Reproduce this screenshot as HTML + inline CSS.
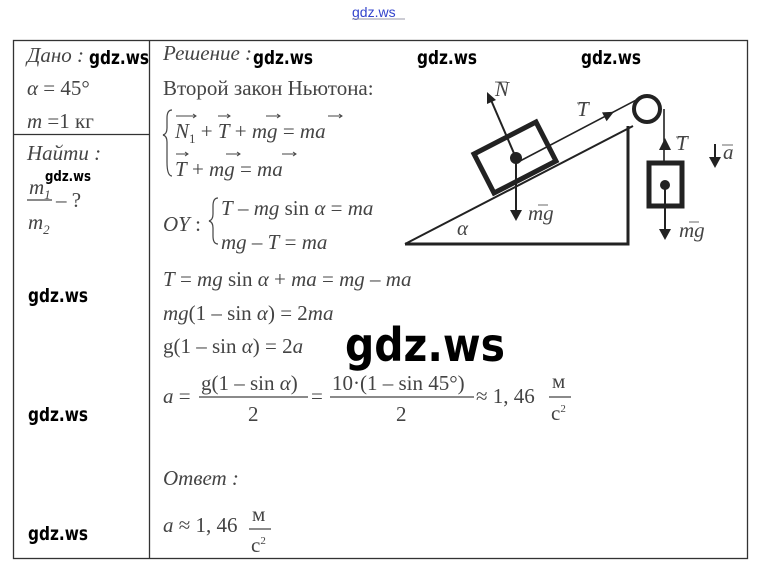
<!DOCTYPE html>
<html><head><meta charset="utf-8"><style>
html,body{margin:0;padding:0;background:#fff;width:758px;height:570px;overflow:hidden}
svg{display:block}
.m{font-family:"Liberation Serif",serif;font-size:21px;fill:#444}
.i{font-style:italic}
.w{font-family:"DejaVu Sans","Liberation Sans",sans-serif;font-weight:bold;fill:#000}
</style></head><body>
<svg width="758" height="570" viewBox="0 0 758 570" xmlns="http://www.w3.org/2000/svg">
<text x="352" y="17" font-family="Liberation Sans,sans-serif" font-size="14" fill="#3344cc">gdz.ws</text>
<line x1="352" y1="19" x2="405" y2="19" stroke="#99a" stroke-width="1"/>
<!-- table -->
<rect x="13.5" y="40.5" width="734" height="518" fill="none" stroke="#333" stroke-width="1.3"/>
<line x1="149.5" y1="40" x2="149.5" y2="559" stroke="#333" stroke-width="1.3"/>
<line x1="13" y1="134.5" x2="149" y2="134.5" stroke="#333" stroke-width="1.3"/>
<!-- left column -->
<text class="m i" x="27" y="62">Дано :</text>
<text class="m" x="27" y="95"><tspan class="i">α</tspan> = 45°</text>
<text class="m" x="27" y="128"><tspan class="i">m</tspan> =1 кг</text>
<text class="m i" x="27" y="160">Найти :</text>
<text class="m i" x="29" y="194">m<tspan font-size="13" dy="5">1</tspan></text>
<line x1="27" y1="200" x2="52" y2="200" stroke="#444" stroke-width="1.3"/>
<text class="m" x="56" y="207">– ?</text>
<text class="m i" x="28" y="229">m<tspan font-size="13" dy="5">2</tspan></text>
<!-- right column -->
<text class="m i" x="163" y="60">Решение :</text>
<text class="m" x="163" y="95">Второй закон Ньютона:</text>
<text class="m i" x="175" y="138">N<tspan font-size="13" dy="5" font-style="normal">1</tspan><tspan dy="-5" font-style="normal"> + </tspan>T<tspan font-style="normal"> + </tspan>mg<tspan font-style="normal"> = </tspan>ma</text>
<text class="m i" x="175" y="176">T<tspan font-style="normal"> + </tspan>mg<tspan font-style="normal"> = </tspan>ma</text>
<path d="M172 110 q-5 0 -5 8 v10 q0 6 -4 7 q4 1 4 7 v20 q0 14 5 14" fill="none" stroke="#444" stroke-width="1.2"/>
<g stroke="#444" stroke-width="1" fill="none">
<path d="M176 116h20m-3 -2l3 2-3 2M218 116h12m-3-2l3 2-3 2M266 116h14m-3-2l3 2-3 2M328 116h14m-3-2l3 2-3 2"/>
<path d="M176 154h12m-3-2l3 2-3 2M226 154h14m-3-2l3 2-3 2M282 154h14m-3-2l3 2-3 2"/>
</g>
<text class="m i" x="163" y="231">OY<tspan font-style="normal"> :</tspan></text>
<path d="M218 198 q-5 0 -5 8 v8 q0 6 -4 7 q4 1 4 7 v8 q0 8 5 8" fill="none" stroke="#444" stroke-width="1.2"/>
<text class="m i" x="221" y="215">T<tspan font-style="normal"> – </tspan>mg<tspan font-style="normal"> sin </tspan>α<tspan font-style="normal"> = </tspan>ma</text>
<text class="m i" x="221" y="249">mg<tspan font-style="normal"> – </tspan>T<tspan font-style="normal"> = </tspan>ma</text>
<text class="m i" x="163" y="286">T<tspan font-style="normal"> = </tspan>mg<tspan font-style="normal"> sin </tspan>α<tspan font-style="normal"> + </tspan>ma<tspan font-style="normal"> = </tspan>mg<tspan font-style="normal"> – </tspan>ma</text>
<text class="m i" x="163" y="320">mg<tspan font-style="normal">(1 – sin </tspan>α<tspan font-style="normal">) = 2</tspan>ma</text>
<text class="m" x="163" y="353">g(1 – sin <tspan class="i">α</tspan>) = 2<tspan class="i">a</tspan></text>
<text class="m" x="163" y="403"><tspan class="i">a</tspan> =</text>
<text class="m" x="201" y="390">g(1 – sin <tspan class="i">α</tspan>)</text>
<line x1="199" y1="397" x2="308" y2="397" stroke="#444" stroke-width="1.2"/>
<text class="m" x="248" y="421">2</text>
<text class="m" x="311" y="403">=</text>
<text class="m" x="332" y="390">10·(1 – sin 45°)</text>
<line x1="330" y1="397" x2="474" y2="397" stroke="#444" stroke-width="1.2"/>
<text class="m" x="396" y="421">2</text>
<text class="m" x="476" y="403">≈ 1, 46</text>
<text class="m" x="552" y="388" font-size="17">м</text>
<line x1="549" y1="397" x2="571" y2="397" stroke="#444" stroke-width="1.2"/>
<text class="m" x="551" y="420">с<tspan font-size="11" dy="-8">2</tspan></text>
<text class="m i" x="163" y="485">Ответ :</text>
<text class="m" x="163" y="532"><tspan class="i">a</tspan> ≈ 1, 46</text>
<text class="m" x="252" y="521" font-size="17">м</text>
<line x1="249" y1="529" x2="271" y2="529" stroke="#444" stroke-width="1.2"/>
<text class="m" x="251" y="552">с<tspan font-size="11" dy="-8">2</tspan></text>
<!-- diagram -->
<g stroke="#222" fill="none">
<path d="M405 244 L628 244 L628 126" stroke-width="3"/>
<line x1="405" y1="244" x2="633" y2="126" stroke-width="2"/>
<line x1="520" y1="161" x2="640" y2="98" stroke-width="1.6"/>
<circle cx="647" cy="109" r="13" stroke-width="4"/>
<line x1="664" y1="109" x2="664" y2="162" stroke-width="1.6"/>
<polygon points="474,154 536,122 556,161 494,193" stroke-width="5" stroke-linejoin="miter"/>
<rect x="649" y="163" width="33" height="43" stroke-width="5"/>
<line x1="516" y1="158" x2="491" y2="100" stroke-width="2"/>
<line x1="516" y1="158" x2="516" y2="212" stroke-width="2"/>
<line x1="665" y1="185" x2="665" y2="232" stroke-width="2"/>
<line x1="715" y1="144" x2="715" y2="160" stroke-width="2"/>
</g>
<g fill="#222">
<circle cx="516" cy="158" r="6"/>
<circle cx="665" cy="185" r="5"/>
<polygon points="487,92 487,104 496,100"/>
<polygon points="510,210 522,210 516,221"/>
<polygon points="659,229 671,229 665,240"/>
<polygon points="709,157 721,157 715,168"/>
<polygon points="659,150 671,150 665,138"/>
<polygon points="614,111.7 606.6,121.2 602,112.4"/>
</g>
<g class="m i" font-size="14">
<text x="495" y="96">N</text><line x1="495" y1="82" x2="507" y2="82" stroke="#444" stroke-width="0.8"/>
<text x="577" y="116">T</text><line x1="577" y1="103" x2="587" y2="103" stroke="#444" stroke-width="0.8"/>
<text x="676" y="150">T</text><line x1="676" y1="137" x2="686" y2="137" stroke="#444" stroke-width="0.8"/>
<text x="723" y="159">a</text><line x1="722" y1="145" x2="733" y2="145" stroke="#444" stroke-width="0.8"/>
<text x="528" y="220">mg</text><line x1="538" y1="205" x2="548" y2="205" stroke="#444" stroke-width="0.8"/>
<text x="679" y="237">mg</text><line x1="689" y1="222" x2="699" y2="222" stroke="#444" stroke-width="0.8"/>
<text x="457" y="235">α</text>
</g>
<!-- watermarks -->
<g class="w" font-size="19">
<text x="89" y="64" textLength="60" lengthAdjust="spacingAndGlyphs">gdz.ws</text>
<text x="253" y="64" textLength="60" lengthAdjust="spacingAndGlyphs">gdz.ws</text>
<text x="417" y="64" textLength="60" lengthAdjust="spacingAndGlyphs">gdz.ws</text>
<text x="581" y="64" textLength="60" lengthAdjust="spacingAndGlyphs">gdz.ws</text>
<text x="28" y="302" textLength="60" lengthAdjust="spacingAndGlyphs">gdz.ws</text>
<text x="28" y="421" textLength="60" lengthAdjust="spacingAndGlyphs">gdz.ws</text>
<text x="28" y="540" textLength="60" lengthAdjust="spacingAndGlyphs">gdz.ws</text>
</g>
<text class="w" x="45" y="181" font-size="14" font-weight="normal" textLength="46" lengthAdjust="spacingAndGlyphs">gdz.ws</text>
<text class="w" x="345" y="361" font-size="46" textLength="160" lengthAdjust="spacingAndGlyphs">gdz.ws</text>
</svg>
</body></html>
